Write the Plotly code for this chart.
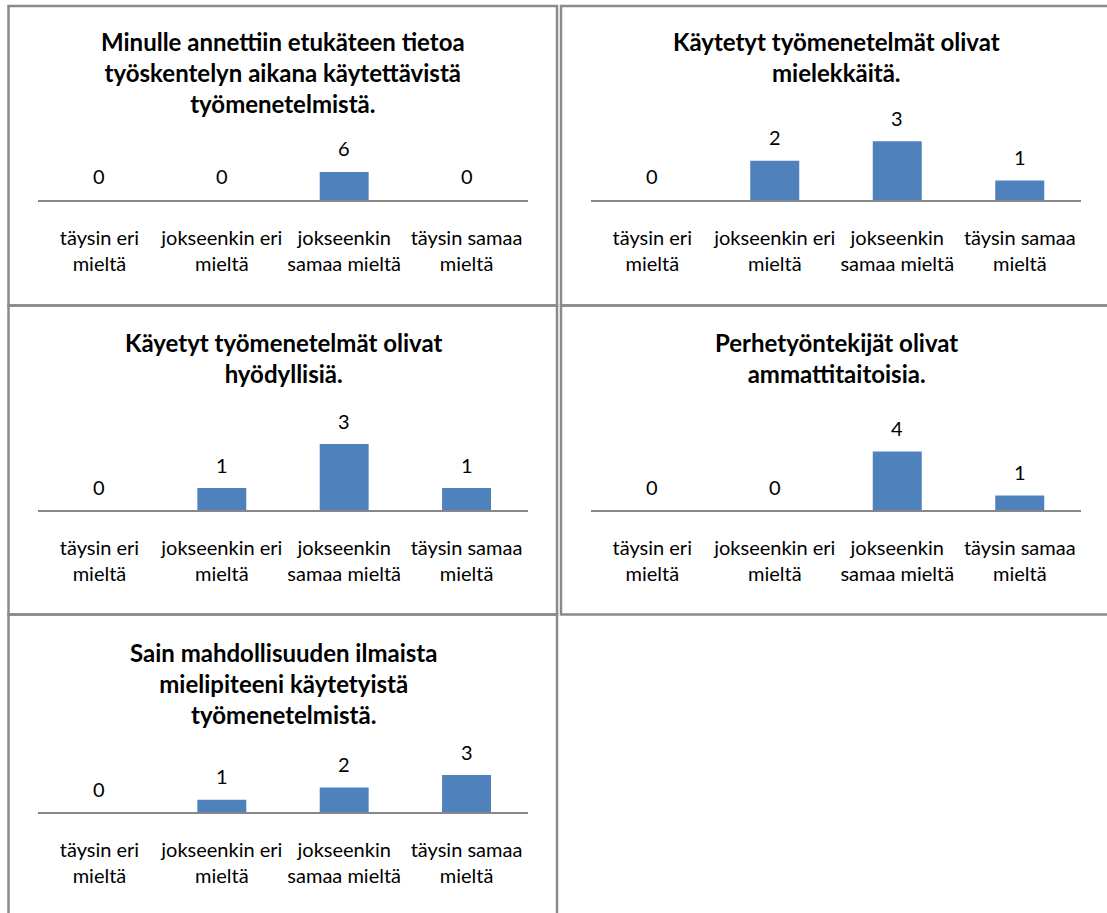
import plotly.graph_objects as go

# ---------------- data ----------------
categories = ["täysin eri<br>mieltä", "jokseenkin eri<br>mieltä",
              "jokseenkin<br>samaa mieltä", "täysin samaa<br>mieltä"]

titles = [
    "Minulle annettiin etukäteen tietoa<br>työskentelyn aikana käytettävistä<br>työmenetelmistä.",
    "Käytetyt työmenetelmät olivat<br>mielekkäitä.",
    "Käyetyt työmenetelmät olivat<br>hyödyllisiä.",
    "Perhetyöntekijät olivat<br>ammattitaitoisia.",
    "Sain mahdollisuuden ilmaista<br>mielipiteeni käytetyistä<br>työmenetelmistä.",
]

values_1 = [0, 0, 6, 0]
values_2 = [0, 2, 3, 1]
values_3 = [0, 1, 3, 1]
values_4 = [0, 0, 4, 1]
values_5 = [0, 1, 2, 3]
all_values = [values_1, values_2, values_3, values_4, values_5]

# ---------------- layout (pixels) ----------------
W, H = 1107, 913
FONT = "Lato, Carlito, Calibri, sans-serif"
BAR = "#4F81BD"
GRAY = "#878787"

# panel boxes: x0, y0, x1, y1
boxes = [
    (8.5, 6, 557, 305.5),
    (561, 6, 1112, 305.5),
    (8.5, 305.5, 557, 614.5),
    (561, 305.5, 1112, 614.5),
    (8.5, 614.5, 557, 920),
]
# plot area: x-left, x-right, axis y, pixels per unit
plots = [
    (38.3, 527.7, 200, 4.67),
    (591, 1081, 200, 19.6),
    (38.3, 527.7, 510, 22.0),
    (591, 1081, 510, 14.6),
    (38.3, 527.7, 812, 12.3),
]
# first title line centre (px)
title_y = [41.5, 41.5, 341.5, 341.5, 651.5]

PH = 90  # plot area height in px


def fx(px):
    return px / W


def fy(py):
    return 1 - py / H


fig = go.Figure()
annotations = []
shapes = []

for i, vals in enumerate(all_values):
    n = i + 1
    xa = "x" if n == 1 else f"x{n}"
    ya = "y" if n == 1 else f"y{n}"
    xl, xr, ay, ppu = plots[i]
    rng = PH / ppu

    fig.add_trace(go.Bar(
        x=categories, y=vals, xaxis=xa, yaxis=ya,
        marker=dict(color=BAR, line=dict(width=0)),
        showlegend=False, hoverinfo="skip",
    ))

    fig.update_layout(**{
        ("xaxis" if n == 1 else f"xaxis{n}"): dict(
            domain=[fx(xl), fx(xr)], anchor=ya,
            showline=True, linecolor=GRAY, linewidth=2,
            showgrid=False, zeroline=False, ticks="",
            ticklabelstandoff=19,
            tickfont=dict(family=FONT, size=20, color="#000000"),
            fixedrange=True,
        ),
        ("yaxis" if n == 1 else f"yaxis{n}"): dict(
            domain=[fy(ay), fy(ay - PH)], anchor=xa,
            range=[0, rng], visible=False, fixedrange=True,
        ),
    })

    # data labels
    for c, v in zip(categories, vals):
        annotations.append(dict(
            x=c, y=v, xref=xa, yref=ya, text=str(v), showarrow=False,
            yshift=23.5, yanchor="middle", xanchor="center",
            font=dict(family=FONT, size=20, color="#000000"),
        ))

    # title
    annotations.append(dict(
        x=fx((xl + xr) / 2), y=fy(title_y[i] - 16), xref="paper", yref="paper",
        text="<b>" + titles[i] + "</b>", showarrow=False,
        xanchor="center", yanchor="top", align="center",
        font=dict(family=FONT, size=24, color="#000000"),
    ))

    # panel border
    x0, y0, x1, y1 = boxes[i]
    shapes.append(dict(
        type="rect", xref="paper", yref="paper",
        x0=fx(x0), x1=fx(x1), y0=fy(y1), y1=fy(y0),
        line=dict(color="#8a8a8a", width=2.5), fillcolor="rgba(0,0,0,0)",
    ))

fig.update_layout(
    width=W, height=H, margin=dict(l=0, r=0, t=0, b=0),
    paper_bgcolor="white", plot_bgcolor="white",
    bargap=0.6, annotations=annotations, shapes=shapes,
    font=dict(family=FONT),
)

fig.write_html(
    "out.html",
    config={"displayModeBar": False, "staticPlot": True},
    post_script="document.body.style.margin='0';document.body.style.overflow='hidden';",
)
